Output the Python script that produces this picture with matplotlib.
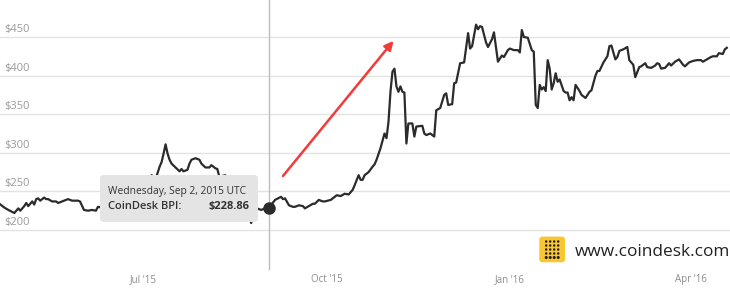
import numpy as np
import pandas as pd
import matplotlib
matplotlib.use("Agg")
import matplotlib.pyplot as plt
import matplotlib.dates as mdates
from matplotlib.patches import FancyBboxPatch, Circle

plt.rcParams['font.family'] = ['Open Sans', 'DejaVu Sans']

# CoinDesk BPI, days counted from 2015-04-20
start_date = "2015-04-20"
day_offsets = [
    0, 2, 4, 7, 9, 10, 12, 13, 14, 16, 17, 18, 19, 20, 22, 23, 24, 26, 28, 29,
    31, 33, 34, 36, 39, 40, 42, 44, 46, 48, 49,
    51, 53, 55, 58, 60, 62, 64, 66, 68, 70, 72, 74,
    76, 78, 80, 81, 82, 83, 84, 85, 86, 88, 90, 91, 92, 94, 95, 96, 98, 100,
    101, 103, 105, 106, 108, 109, 110, 113, 115, 117, 119, 120, 122, 124, 126,
    127, 129, 131, 133, 135,
    138, 141, 142, 143, 145, 147, 148, 150, 152, 153, 155, 157, 158, 160, 162,
    163, 166, 168, 169, 171, 173, 175, 177, 178, 180, 181, 182, 183, 185, 187,
    188, 189, 191, 193, 194, 195, 196, 197, 198, 199, 200, 201, 202, 203, 204,
    205, 207, 208, 209, 212, 213, 214, 216, 218, 219, 221, 223, 224, 225, 227,
    228, 229, 231, 233, 235, 236, 237, 239, 240, 241, 242, 244, 245, 247, 248,
    250, 251, 252, 253, 255, 256, 258, 260, 261, 262, 263, 265, 267, 268, 269,
    270, 271, 272, 273, 274, 275, 276, 277, 278, 279, 280, 281, 283, 284, 285,
    286, 287, 288, 289, 291, 292, 294, 296, 297, 299, 300, 301, 303, 305, 306,
    307, 309, 310, 311, 313, 315, 316, 318, 319, 321, 322, 324, 325, 327, 329,
    330, 331, 332, 334, 336, 337, 339, 341, 343, 344, 346, 348, 350, 352, 353,
    355, 357, 358, 360, 361, 363, 364, 365,
]
bpi = [
    233, 229, 226, 222, 228, 225, 231, 235, 231, 237, 233, 240, 241, 238, 242, 240, 240, 237, 237, 235,
    237, 239, 240, 238, 238, 237, 226, 225, 226, 225, 230,
    229, 232, 236, 248, 244, 245, 242, 248, 250, 258, 256, 262,
    271, 266, 282, 288, 299, 311, 299, 291, 286, 281, 276, 279, 276, 278, 286, 291, 293, 291,
    286, 281, 281, 284, 280, 279, 269, 271, 262, 258, 232, 238, 230, 225, 209,
    220, 228, 226, 228, 228.86,
    239, 243, 240, 241, 232, 230, 230, 232, 231, 228, 231, 234, 234, 239, 237,
    237, 239, 243, 245, 244, 247, 246, 252, 258, 271, 265, 265, 271, 275, 282,
    285, 291, 306, 325, 319, 340, 379, 405, 409, 386, 379, 386, 379, 378, 312,
    338, 338, 321, 334, 335, 325, 323, 325, 321, 355, 358, 375, 377, 362, 363,
    390, 391, 416, 417, 455, 435, 438, 466, 460, 464, 463, 443, 437, 447, 456,
    418, 422, 426, 424, 433, 435, 433, 433, 430, 459, 450, 449, 433, 431, 362,
    358, 388, 382, 385, 380, 420, 409, 382, 390, 403, 392, 395, 380, 378, 378,
    368, 372, 368, 388, 380, 375, 371, 379, 381, 400, 406, 406, 417, 425, 438,
    439, 421, 424, 432, 434, 437, 420, 414, 398, 411, 412, 416, 411, 410, 413,
    416, 415, 409, 410, 416, 413, 418, 421, 414, 412, 417, 419, 420, 420, 418,
    421, 424, 425, 425, 429, 428, 434, 436,
]

yticks = [200, 250, 300, 350, 400, 450]
xtick_dates = ["2015-07-01", "2015-10-01", "2016-01-01", "2016-04-01"]
xtick_labels = ["Jul '15", "Oct '15", "Jan '16", "Apr '16"]

tip_date = "2015-09-02"
tip_title = "Wednesday, Sep 2, 2015 UTC"
tip_value = 228.86

dates = pd.Timestamp(start_date) + pd.to_timedelta(day_offsets, unit="D")

fig = plt.figure(figsize=(7.3, 2.91), dpi=100)
ax = fig.add_axes([0, 21 / 291, 1, 270 / 291])

ax.plot(dates, bpi, color="#2b2b2b", lw=1.6, solid_joinstyle="round", zorder=3)

t0 = mdates.date2num(pd.Timestamp(start_date))
ax.set_xlim(t0 - 0.2, t0 + 366.6)
ax.set_ylim(148.2, 497.9)

for s in ax.spines.values():
    s.set_visible(False)
ax.set_yticks(yticks)
ax.tick_params(axis="y", length=0, labelleft=False)
ax.grid(axis="y", color="#e3e3e3", lw=1)
ax.set_axisbelow(True)
ax.set_xticks(mdates.date2num(pd.to_datetime(xtick_dates)))
ax.set_xticklabels(xtick_labels, color="#8c8c8c", fontsize=7)
ax.tick_params(axis="x", length=0, pad=3)

for v in yticks:
    ax.annotate(f"${v}", xy=(0.006, v), xycoords=("axes fraction", "data"),
                xytext=(0, 1.5), textcoords="offset points",
                ha="left", va="bottom", color="#9a9a9a", fontsize=8)

# crosshair + hovered point
tip_x = mdates.date2num(pd.Timestamp(tip_date))
ax.axvline(tip_x, color="#bdbdbd", lw=1, zorder=2)
ax.plot([tip_x], [tip_value], "o", ms=8, color="#2b2b2b", zorder=4)

# red arrow
ax.annotate("", xy=(mdates.date2num(pd.Timestamp("2015-11-03 12:00")), 445),
            xytext=(mdates.date2num(pd.Timestamp("2015-09-09")), 270),
            arrowprops=dict(arrowstyle="-|>", color="#f23b3b", lw=1.8,
                            mutation_scale=13, shrinkA=0, shrinkB=0),
            zorder=4)

tr = fig.dpi_scale_trans

# tooltip
tip = FancyBboxPatch((1.00, 0.69), 1.58, 0.47,
                     boxstyle="round,pad=0,rounding_size=0.04",
                     transform=tr, fc="#e4e4e4", ec="none", zorder=5)
fig.add_artist(tip)
fig.text(1.077, 0.993, tip_title, transform=tr, fontsize=7.4, color="#333333",
         va="center", ha="left", zorder=6)
fig.text(1.077, 0.843, "CoinDesk BPI:", transform=tr, fontsize=8,
         color="#333333", va="center", ha="left", weight="semibold", zorder=6)
fig.text(2.50, 0.843, f"${tip_value:.2f}", transform=tr, fontsize=8,
         color="#333333", va="center", ha="right", weight="bold", zorder=6)

# coindesk logo
logo = FancyBboxPatch((5.393, 0.287), 0.257, 0.257,
                      boxstyle="round,pad=0,rounding_size=0.03",
                      transform=tr, fc="#f9c531", ec="none", zorder=5)
fig.add_artist(logo)
for i in range(4):
    for j in range(5):
        r = 0.015 if j == 0 else 0.012
        fig.add_artist(Circle((5.462 + i * 0.040, 0.335 + j * 0.040), r,
                              transform=tr, fc="#1a1a1a", ec="none", zorder=6))
fig.text(5.75, 0.393, "www.coindesk.com", transform=tr, fontsize=12.4,
         color="#222222", va="center", ha="left", zorder=6)

fig.savefig("out.png", dpi=100)
plt.close(fig)
